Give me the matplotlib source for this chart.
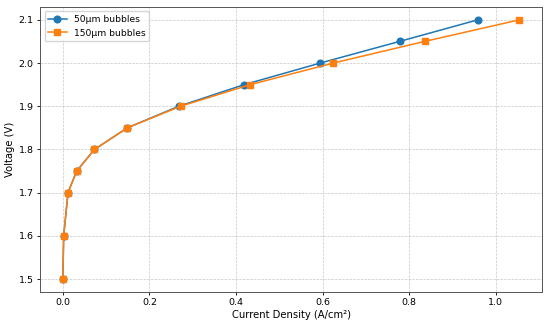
import matplotlib
matplotlib.use('Agg')
import matplotlib.pyplot as plt

# Polarisation curves
voltage = [1.5, 1.6, 1.7, 1.75, 1.8, 1.85, 1.9, 1.95, 2.0, 2.05, 2.1]
current_50um = [0.0, 0.002, 0.012, 0.032, 0.073, 0.149, 0.268, 0.419, 0.595, 0.778, 0.959]
current_150um = [0.0, 0.002, 0.012, 0.032, 0.073, 0.149, 0.272, 0.433, 0.625, 0.836, 1.055]

plt.rcParams['font.size'] = 6.8

fig, ax = plt.subplots(figsize=(5.5, 3.26), dpi=100)
fig.subplots_adjust(left=0.0727, right=0.986, top=0.979, bottom=0.104)

ax.plot(current_50um, voltage, '-o', color='#1f77b4', markersize=4.8, linewidth=1.1, label='50µm bubbles')
ax.plot(current_150um, voltage, '-s', color='#ff7f0e', markersize=4.8, linewidth=1.1, label='150µm bubbles')

ax.set_xlabel('Current Density (A/cm²)', fontsize=7.2, labelpad=2)
ax.set_ylabel('Voltage (V)', fontsize=7.2, labelpad=3)
ax.tick_params(length=2.5, width=0.6, pad=2, labelsize=6.8)
ax.grid(True, linestyle='--', linewidth=0.5, alpha=0.7)
for s in ax.spines.values():
    s.set_linewidth(0.7)
    s.set_color('#555555')
ax.legend(loc='upper left', fontsize=6.6)

fig.savefig('out.png', dpi=100)
